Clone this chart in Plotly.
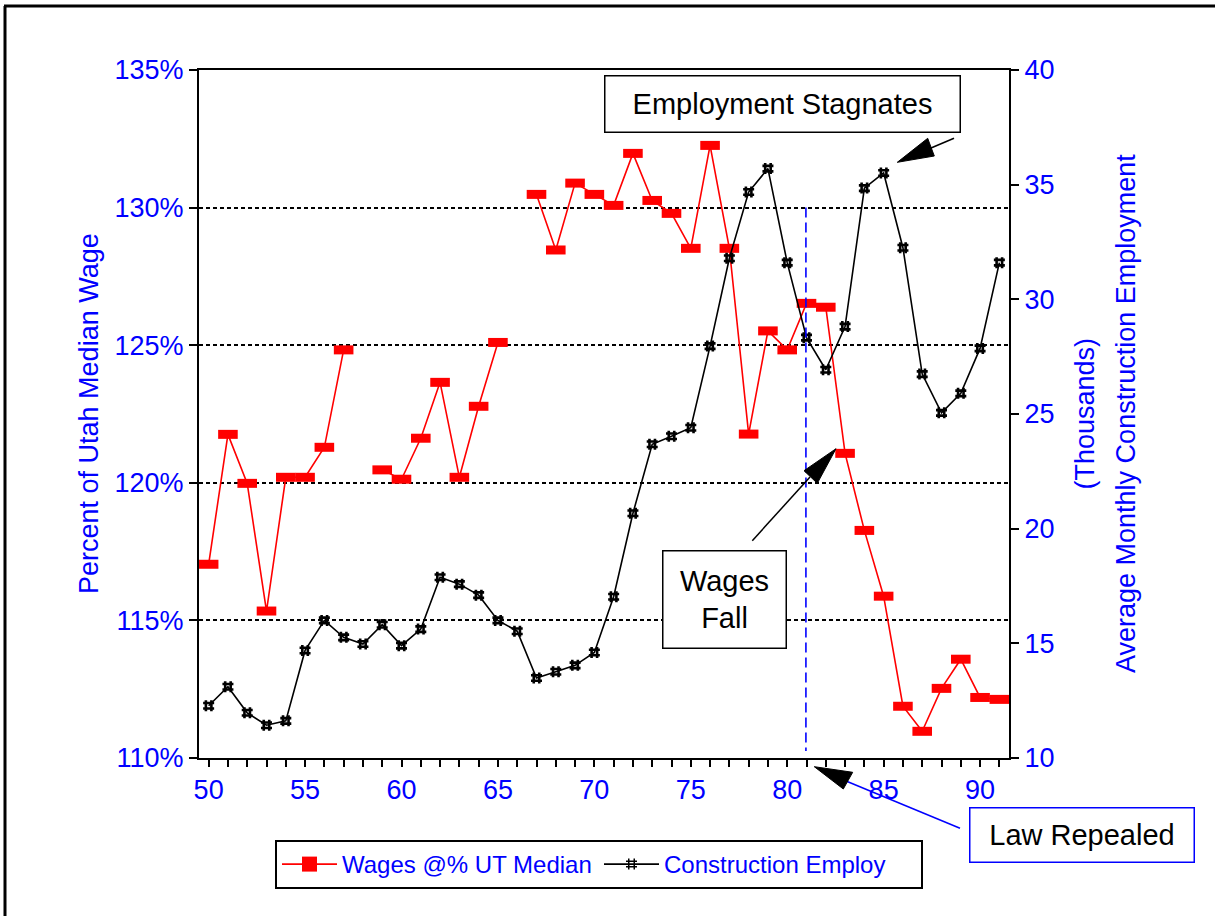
import plotly.graph_objects as go

# ---------------- data ----------------
years = list(range(50, 92))

wages_pct = [117.04, 121.76, 119.98, 115.34, 120.20, 120.20, 121.29, 124.83, None,
             120.47, 120.13, 121.62, 123.65, 120.20, 122.78, 125.10, None,
             130.48, 128.46, 130.89, 130.48, 130.08, 131.97, 130.26, 129.79, 128.52,
             132.26, 128.52, 121.77, 125.52, 124.83, 126.52, 126.38, 121.07, 118.27,
             115.88, 111.88, 110.97, 112.53, 113.59, 112.20, 112.13]

employment_k = [12.28, 13.11, 11.97, 11.43, 11.62, 14.69, 16.00, 15.26, 14.97, 15.81,
                14.90, 15.62, 17.88, 17.58, 17.10, 16.00, 15.53, 13.49, 13.76, 14.04,
                14.60, 17.03, 20.67, 23.68, 24.03, 24.40, 27.96, 31.79, 34.68, 35.70,
                31.60, 28.33, 26.93, 28.81, 34.85, 35.51, 32.25, 26.74, 25.05, 25.90,
                27.86, 31.60]

x_tick_vals = [50, 55, 60, 65, 70, 75, 80, 85, 90]
x_tick_text = ["50", "55", "60", "65", "70", "75", "80", "85", "90"]
y1_tick_vals = [110, 115, 120, 125, 130, 135]
y1_tick_text = ["110%", "115%", "120%", "125%", "130%", "135%"]
y2_tick_vals = [10, 15, 20, 25, 30, 35, 40]
y2_tick_text = ["10", "15", "20", "25", "30", "35", "40"]

law_year = 80.97
law_top = 130
law_bottom = 110.25

# ---------------- layout helpers (pixel -> paper) ----------------
W, H = 1215, 916
L, R, T, B = 199, 1009, 70, 758
def px(x):
    return (x - L) / (R - L)
def py(y):
    return (B - y) / (B - T)

FONT = "Liberation Sans, Arial, sans-serif"
BLUE = "#0000FF"
RED = "#FF0000"

fig = go.Figure()

fig.add_trace(go.Scatter(
    x=years, y=wages_pct, mode="lines+markers", name="Wages @% UT Median",
    line=dict(color=RED, width=1.6),
    marker=dict(symbol="line-ew", size=14, color=RED, line=dict(color=RED, width=9)),
    showlegend=False, yaxis="y"))

fig.add_trace(go.Scatter(
    x=years, y=employment_k, mode="lines+markers", name="Construction Employ",
    line=dict(color="black", width=1.6),
    marker=dict(symbol="hash", size=11, color="black", line=dict(color="black", width=2.6)),
    showlegend=False, yaxis="y2"))

# legend entries
fig.add_trace(go.Scatter(
    x=[None], y=[None], mode="lines+markers", name="Wages @% UT Median",
    line=dict(color=RED, width=1.6),
    marker=dict(symbol="square", size=15, color=RED), yaxis="y"))
fig.add_trace(go.Scatter(
    x=[None], y=[None], mode="lines+markers", name="Construction Employ",
    line=dict(color="black", width=1.6),
    marker=dict(symbol="hash", size=11, color="black", line=dict(color="black", width=1.5)),
    yaxis="y2"))

shapes = []
# outer frame (left and top edges)
shapes.append(dict(type="line", xref="paper", yref="paper",
                   x0=px(5), y0=py(6), x1=px(5), y1=py(H + 5),
                   line=dict(color="black", width=3)))
shapes.append(dict(type="line", xref="paper", yref="paper",
                   x0=px(4), y0=py(6), x1=px(W + 5), y1=py(6),
                   line=dict(color="black", width=3)))
# law repealed vertical line
shapes.append(dict(type="line", xref="x", yref="y",
                   x0=law_year, x1=law_year, y0=law_top, y1=law_bottom,
                   line=dict(color=BLUE, width=1.6, dash="10px,5px")))

def tri(p1, p2, p3, color):
    path = "M {} {} L {} {} L {} {} Z".format(px(p1[0]), py(p1[1]), px(p2[0]), py(p2[1]),
                                               px(p3[0]), py(p3[1]))
    return dict(type="path", xref="paper", yref="paper", path=path,
                fillcolor=color, line=dict(color=color, width=1))

def seg(a, b, color, width=1.5):
    return dict(type="line", xref="paper", yref="paper",
                x0=px(a[0]), y0=py(a[1]), x1=px(b[0]), y1=py(b[1]),
                line=dict(color=color, width=width))

# arrow 1: employment stagnates
shapes.append(seg((954, 138.3), (931, 148), "black"))
shapes.append(tri((897.3, 162.3), (927.7, 138.3), (934.3, 156), "black"))
# arrow 2: wages fall
shapes.append(seg((752.3, 540.7), (810, 477), "black"))
shapes.append(tri((836, 448.7), (804, 470.7), (817.3, 483.3), "black"))
# arrow 3: law repealed
shapes.append(seg((960, 828.3), (846, 781), BLUE))
shapes.append(tri((814.3, 766.7), (852.7, 772.3), (843.3, 789), "black"))

annotations = [
    dict(text="Employment Stagnates", xref="paper", yref="paper",
         x=px(782), y=py(103.5), xanchor="center", yanchor="middle", showarrow=False,
         width=350, height=51, borderpad=2, borderwidth=1.5, bordercolor="black",
         bgcolor="white", font=dict(family=FONT, size=29, color="black")),
    dict(text="Wages<br>Fall", xref="paper", yref="paper",
         x=px(724), y=py(599), xanchor="center", yanchor="middle", showarrow=False,
         width=118, height=92, borderpad=2, borderwidth=1.5, bordercolor="black",
         bgcolor="white", font=dict(family=FONT, size=29, color="black")),
    dict(text="Law Repealed", xref="paper", yref="paper",
         x=px(1081.5), y=py(834.5), xanchor="center", yanchor="middle", showarrow=False,
         width=219, height=49, borderpad=2, borderwidth=1.5, bordercolor=BLUE,
         bgcolor="white", font=dict(family=FONT, size=29, color="black")),
    dict(text="Percent of Utah Median Wage", xref="paper", yref="paper",
         x=px(89), y=py(414), xanchor="center", yanchor="middle", showarrow=False,
         textangle=-90, font=dict(family=FONT, size=27, color=BLUE)),
    dict(text="(Thousands)", xref="paper", yref="paper",
         x=px(1084.5), y=py(414), xanchor="center", yanchor="middle", showarrow=False,
         textangle=-90, font=dict(family=FONT, size=27, color=BLUE)),
    dict(text="Average Monthly Construction Employment", xref="paper", yref="paper",
         x=px(1126), y=py(414), xanchor="center", yanchor="middle", showarrow=False,
         textangle=-90, font=dict(family=FONT, size=27, color=BLUE)),
]

fig.update_layout(
    width=W, height=H,
    margin=dict(l=L, r=W - R, t=T, b=H - B),
    paper_bgcolor="white", plot_bgcolor="white",
    font=dict(family=FONT, color=BLUE),
    shapes=shapes, annotations=annotations,
    legend=dict(orientation="h", x=px(275), y=py(840), xanchor="left", yanchor="top",
                bordercolor="black", borderwidth=2, bgcolor="white",
                font=dict(family=FONT, size=24, color=BLUE), itemwidth=55,
                entrywidth=252, entrywidthmode="pixels"),
    xaxis=dict(range=[49.5, 91.5], tickvals=x_tick_vals, ticktext=x_tick_text,
               ticks="outside", ticklen=7, tickwidth=1.5, tickcolor="black",
               minor=dict(tickvals=years, ticks="outside", ticklen=7, tickwidth=1.5,
                          tickcolor="black", showgrid=False),
               showline=True, linecolor="black", linewidth=2, mirror=True,
               showgrid=False, zeroline=False,
               tickfont=dict(family=FONT, size=27, color=BLUE)),
    yaxis=dict(range=[110, 135], tickvals=y1_tick_vals, ticktext=y1_tick_text,
               ticks="outside", ticklen=8, tickwidth=1.5, tickcolor="black",
               showline=True, linecolor="black", linewidth=2,
               showgrid=True, gridcolor="black", gridwidth=1.5, griddash="4px,3px",
               zeroline=False, tickfont=dict(family=FONT, size=27, color=BLUE)),
    yaxis2=dict(range=[10, 40], tickvals=y2_tick_vals, ticktext=y2_tick_text,
                overlaying="y", side="right",
                ticks="outside", ticklen=8, tickwidth=1.5, tickcolor="black",
                showline=True, linecolor="black", linewidth=2,
                showgrid=False, zeroline=False,
                tickfont=dict(family=FONT, size=27, color=BLUE)),
)

fig.write_html("out.html", config={"displayModeBar": False},
               post_script="document.body.style.margin='0';")
